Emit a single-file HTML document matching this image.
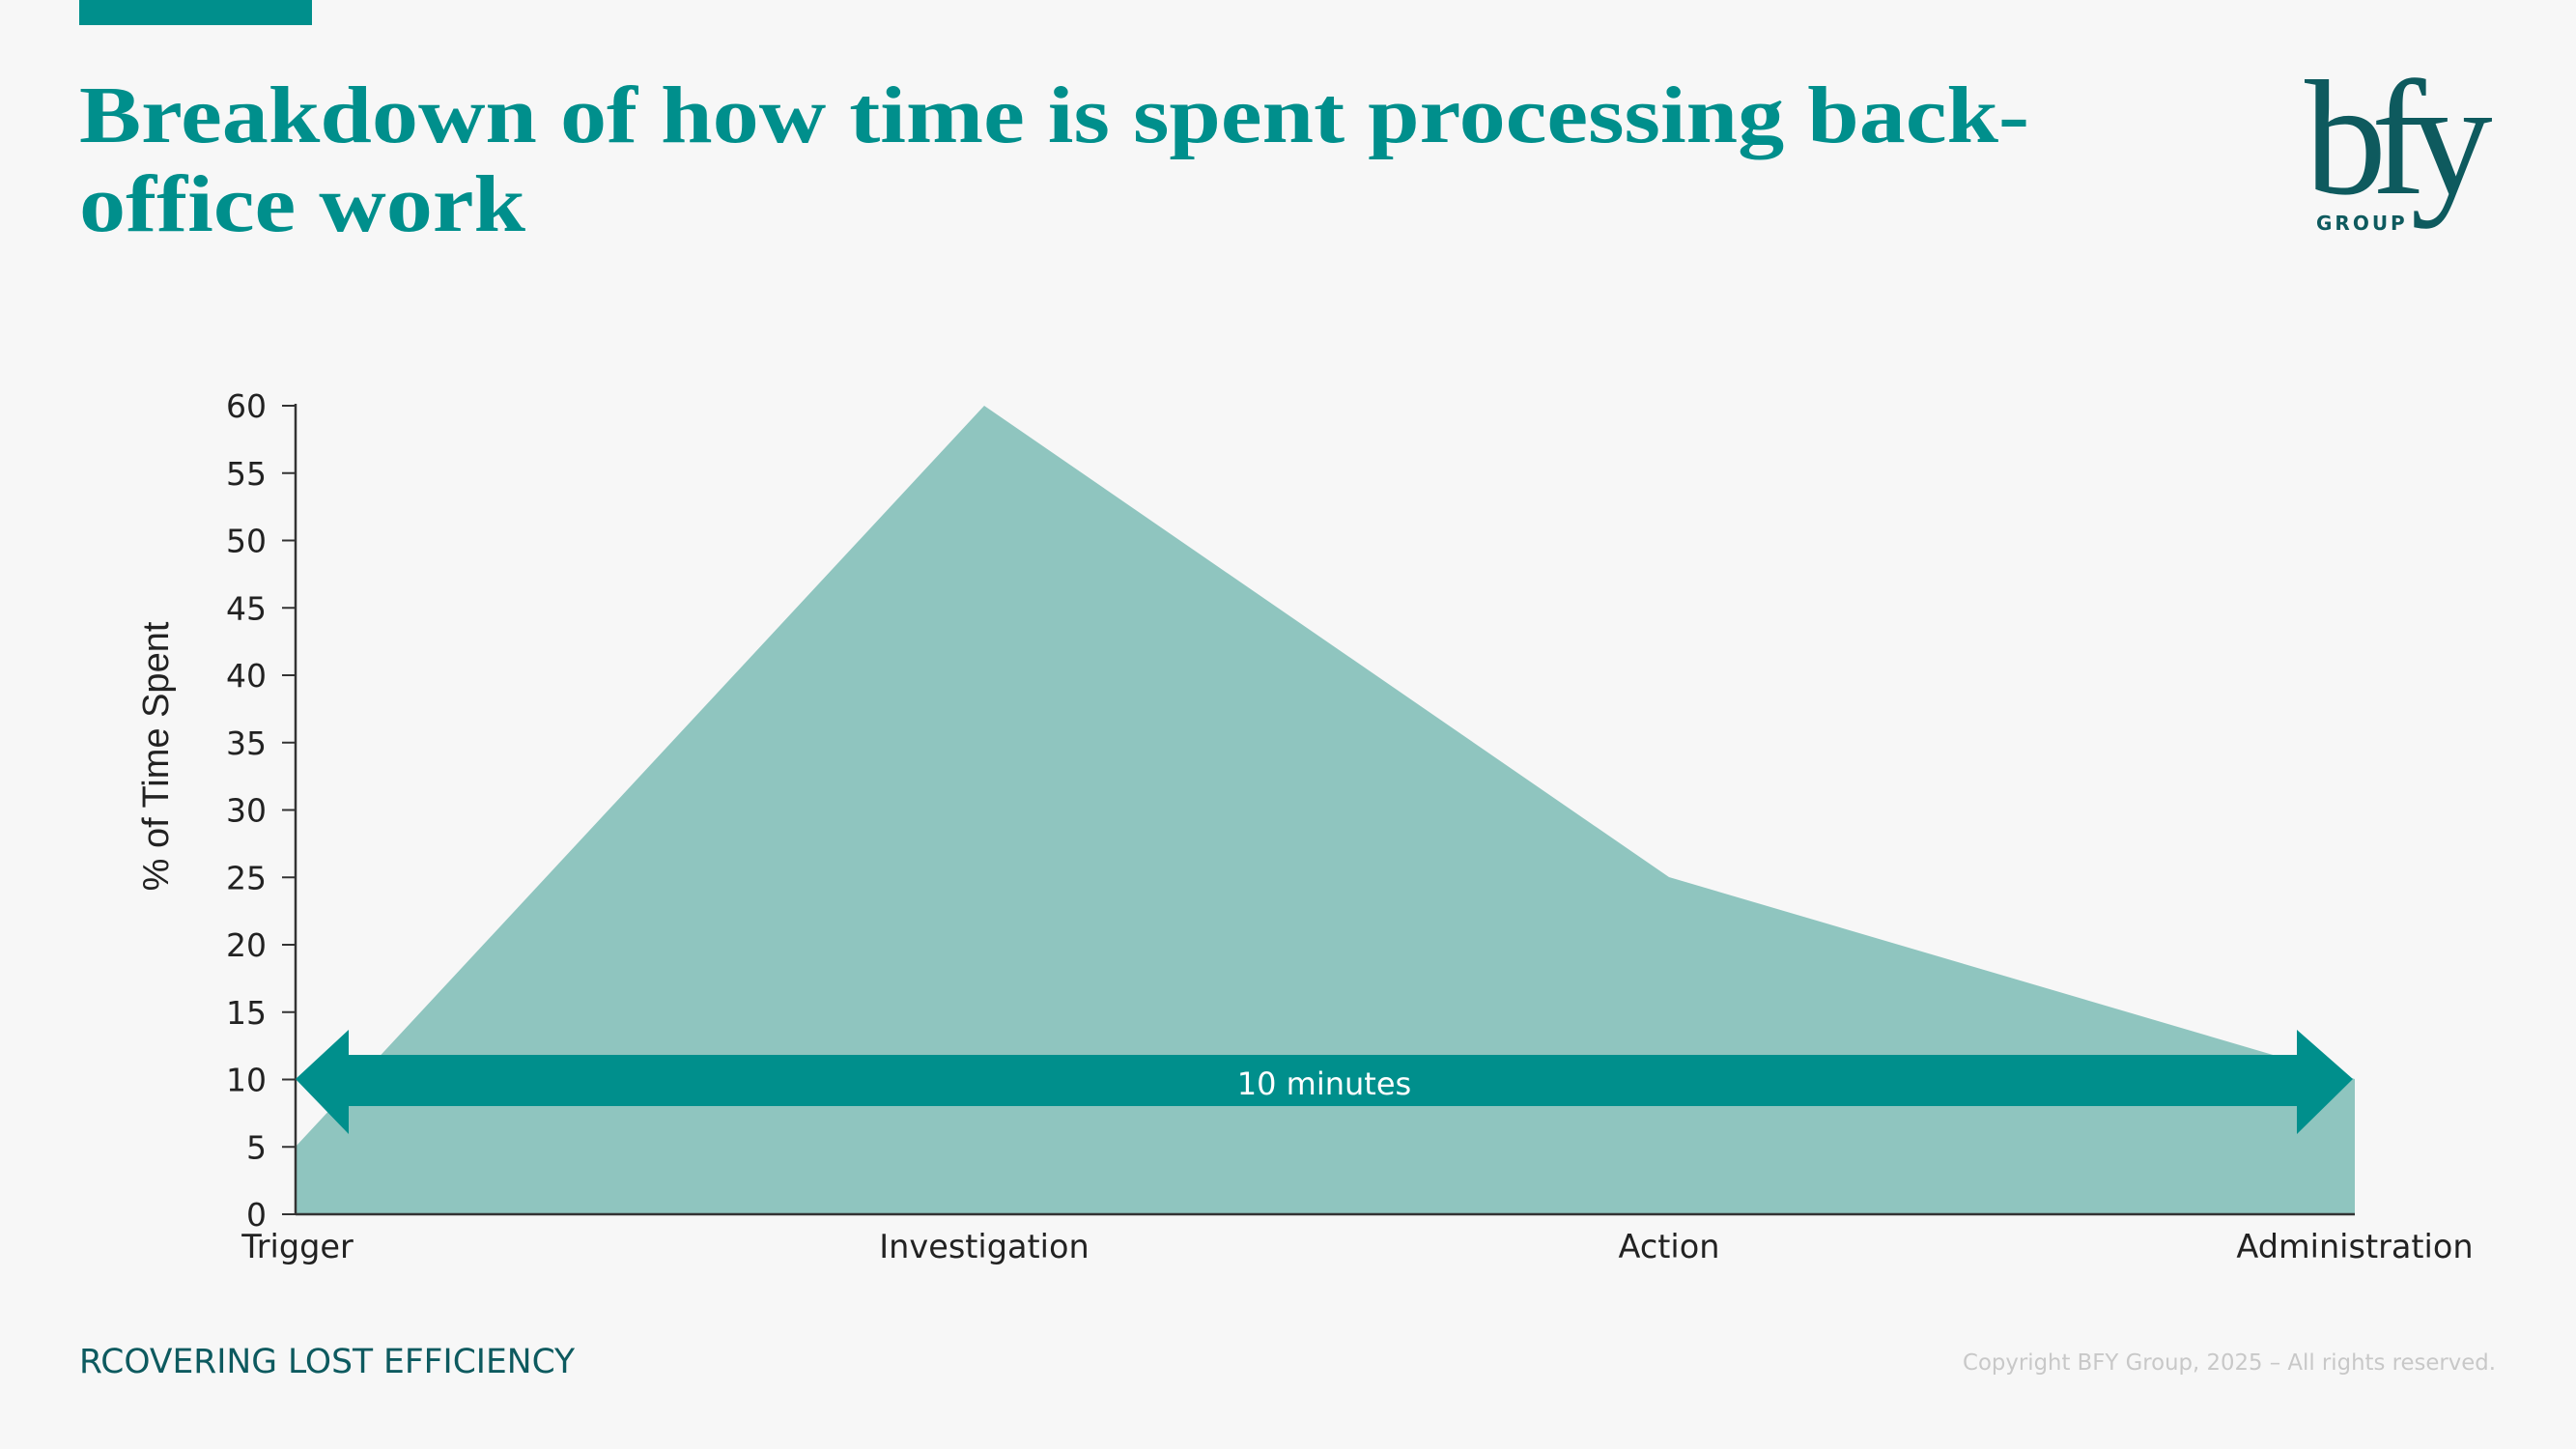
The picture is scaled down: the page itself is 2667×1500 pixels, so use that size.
<!DOCTYPE html>
<html><head><meta charset="utf-8"><style>
body{margin:0;width:2667px;height:1500px;background:#f7f7f7;overflow:hidden;position:relative;font-family:"DejaVu Sans",Verdana,sans-serif}
.bar{position:absolute;left:82px;top:0;width:241px;height:26px;background:#008f8c}
h1{position:absolute;left:82px;top:74px;margin:0;font-family:"Liberation Serif",serif;font-weight:bold;font-size:84px;line-height:92px;color:#008f8c;width:2100px;transform:scaleX(1.145);transform-origin:0 0}
.foot{position:absolute;left:82px;top:1390px;font-size:34.5px;color:#0d5a5f}
.copy{position:absolute;right:83px;top:1398px;font-size:22.8px;color:#c8c8c8}
</style></head><body>
<div class="bar"></div>
<h1>Breakdown of how time is spent processing back-<br>office work</h1>
<svg width="2667" height="1500" style="position:absolute;left:0;top:0">
<g fill="#0e5a5e">
<text x="2386" y="200" font-family="Liberation Serif,serif" font-size="170" letter-spacing="-16">bfy</text>
<text x="2398" y="238" font-family="DejaVu Sans,sans-serif" font-size="20" font-weight="bold" letter-spacing="3">GROUP</text>
</g>
<polygon points="306,1257 306,1187 1019,420 1728,908 2438,1117 2438,1257" fill="#8fc5bf"/>
<g stroke="#333" stroke-width="2.5">
<line x1="306" y1="418" x2="306" y2="1258"/>
<line x1="306" y1="1257" x2="2438" y2="1257"/>
</g>
<g stroke="#333" stroke-width="2" id="t"></g>
<g font-size="33" fill="#222" text-anchor="end" id="yl"></g>
<polygon points="306,1117 361,1066 361,1092 2378,1092 2378,1066 2436,1117 2378,1174 2378,1145 361,1145 361,1174" fill="#008f8c"/>
<text x="1371" y="1133" font-size="32" fill="#fff" text-anchor="middle">10 minutes</text>
<g font-size="33.5" fill="#222" text-anchor="middle">
<text x="308" y="1302">Trigger</text>
<text x="1019" y="1302">Investigation</text>
<text x="1728" y="1302">Action</text>
<text x="2438" y="1302">Administration</text>
</g>
<text transform="translate(174,783) rotate(-90)" font-family="Liberation Sans,sans-serif" font-size="38" fill="#222" text-anchor="middle">% of Time Spent</text>
</svg>
<script>
var t=document.getElementById('t'),yl=document.getElementById('yl'),s='';var l='';
for(var i=0;i<=12;i++){var y=1257-i*69.75;s+='<line x1="292" y1="'+y+'" x2="306" y2="'+y+'"/>';l+='<text x="276" y="'+(y+12)+'">'+(i*5)+'</text>';}
t.innerHTML=s;yl.innerHTML=l;
</script>
<div class="foot">RCOVERING LOST EFFICIENCY</div>
<div class="copy">Copyright BFY Group, 2025 – All rights reserved.</div>
</body></html>
